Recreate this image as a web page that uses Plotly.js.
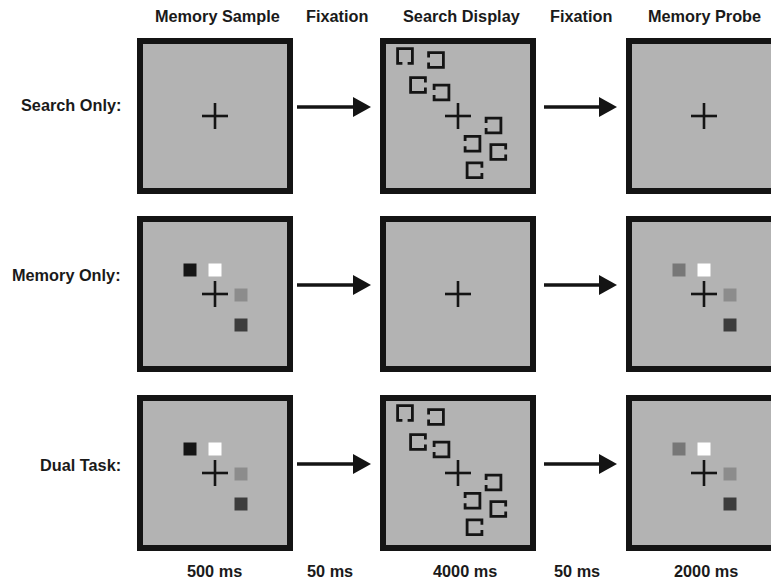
<!DOCTYPE html>
<html>
<head>
<meta charset="utf-8">
<script src="https://cdn.plot.ly/plotly-3.0.1.min.js"></script>
<style>html,body{margin:0;padding:0;background:#fff;}#chart{width:771px;height:582px;}</style>
</head>
<body>
<div id="chart"></div>
<script>
// ---- content ----
const columnTitles = ["Memory Sample", "Fixation", "Search Display", "Fixation", "Memory Probe"];
const durations = ["500 ms", "50 ms", "4000 ms", "50 ms", "2000 ms"];
const rowLabels = ["Search Only:", "Memory Only:", "Dual Task:"];
const rowDisplays = [
  ["fixation", "search", "fixation"],
  ["memory", "fixation", "probe"],
  ["memory", "search", "probe"]
];
// memory items: offsets from display centre (px) and colours
const memoryDx = [-25, 0, 26, 26];
const memoryDy = [-24, -24, 1, 31];
const sampleColors = ["#151515", "#ffffff", "#8c8c8c", "#3c3c3c"];
const probeColors = ["#777777", "#ffffff", "#8c8c8c", "#3c3c3c"];
// search items: offsets from display centre and side of the gap
const searchDx = [-53, -22, -40, -16.5, 35.5, 14.5, 40.3, 16.5];
const searchDy = [-60, -56, -31, -23.5, 9.5, 27.7, 36, 54.3];
const searchGap = ["bottom", "left", "right", "left", "left", "left", "right", "right"];

// ---- layout geometry ----
const panelLeft = [137, 380, 626];
const panelTop = [38, 216, 395];
const panelSize = 156;
const border = 6;
const titleX = [217, 337, 461, 581, 704];
const durX = [214, 330, 465, 577, 706];
const arrowX = [[297, 371], [544, 617]];
const FONT = "'Liberation Sans', Arial, sans-serif";
const FSIZE = 16.3;
const INK = "#141414";

const shapes = [];
const annotations = [];

function cross(cx, cy) {
  const a = 13;
  shapes.push({type: "line", xref: "x", yref: "y", x0: cx - a, x1: cx + a, y0: cy, y1: cy, line: {color: INK, width: 2.6}});
  shapes.push({type: "line", xref: "x", yref: "y", x0: cx, x1: cx, y0: cy - a, y1: cy + a, line: {color: INK, width: 2.6}});
}
function memoryItems(cx, cy, colors) {
  const s = 13;
  for (let i = 0; i < colors.length; i++) {
    const x = cx + memoryDx[i], y = cy + memoryDy[i];
    shapes.push({type: "rect", xref: "x", yref: "y", x0: x - s / 2, x1: x + s / 2, y0: y - s / 2, y1: y + s / 2,
      fillcolor: colors[i], line: {width: 0}});
  }
}
function searchItems(cx, cy) {
  const h = 7.4, g = 2.6;
  for (let i = 0; i < searchDx.length; i++) {
    const x = cx + searchDx[i], y = cy + searchDy[i];
    const L = x - h, R = x + h, T = y - h, B = y + h;
    let p;
    switch (searchGap[i]) {
      case "bottom": p = `M${x - g},${B} L${L},${B} L${L},${T} L${R},${T} L${R},${B} L${x + g},${B}`; break;
      case "top": p = `M${x + g},${T} L${R},${T} L${R},${B} L${L},${B} L${L},${T} L${x - g},${T}`; break;
      case "left": p = `M${L},${y - g} L${L},${T} L${R},${T} L${R},${B} L${L},${B} L${L},${y + g}`; break;
      default: p = `M${R},${y - g} L${R},${T} L${L},${T} L${L},${B} L${R},${B} L${R},${y + g}`;
    }
    shapes.push({type: "path", xref: "x", yref: "y", path: p, line: {color: INK, width: 2.8}});
  }
}

for (let r = 0; r < rowDisplays.length; r++) {
  const top = panelTop[r];
  for (let c = 0; c < 3; c++) {
    const left = panelLeft[c];
    shapes.push({type: "rect", xref: "x", yref: "y",
      x0: left + border / 2, x1: left + panelSize - border / 2,
      y0: top + border / 2, y1: top + panelSize - border / 2,
      fillcolor: "#b3b3b3", line: {color: INK, width: border}});
    const cx = left + panelSize / 2, cy = top + panelSize / 2;
    cross(cx, cy);
    const kind = rowDisplays[r][c];
    if (kind === "memory") memoryItems(cx, cy, sampleColors);
    if (kind === "probe") memoryItems(cx, cy, probeColors);
    if (kind === "search") searchItems(cx, cy);
  }
  // arrows
  const ay = top + panelSize / 2 - 9;
  for (const [xs, xe] of arrowX) {
    const headLen = 18, headH = 10;
    shapes.push({type: "line", xref: "x", yref: "y", x0: xs, x1: xe - headLen + 1, y0: ay, y1: ay, line: {color: INK, width: 3.5}});
    shapes.push({type: "path", xref: "x", yref: "y",
      path: `M${xe - headLen},${ay - headH} L${xe},${ay} L${xe - headLen},${ay + headH} Z`,
      fillcolor: INK, line: {color: INK, width: 0}});
  }
  // row label
  const labelY = [105, 275, 465][r];
  annotations.push({xref: "x", yref: "y", x: 123, y: labelY, xanchor: "right", yanchor: "middle",
    text: "<b>" + rowLabels[r] + "</b>", showarrow: false, font: {family: FONT, size: FSIZE, color: "#1a1a1a"}});
}

columnTitles.forEach((t, i) => annotations.push({xref: "x", yref: "y", x: titleX[i], y: 16, xanchor: "center", yanchor: "middle",
  text: "<b>" + t + "</b>", showarrow: false, font: {family: FONT, size: FSIZE, color: "#1a1a1a"}}));
durations.forEach((t, i) => annotations.push({xref: "x", yref: "y", x: durX[i], y: 571, xanchor: "center", yanchor: "middle",
  text: "<b>" + t + "</b>", showarrow: false, font: {family: FONT, size: FSIZE, color: "#1a1a1a"}}));

const layout = {
  width: 771, height: 582,
  margin: {l: 0, r: 0, t: 0, b: 0},
  paper_bgcolor: "#ffffff", plot_bgcolor: "#ffffff",
  xaxis: {range: [0, 771], visible: false, fixedrange: true},
  yaxis: {range: [582, 0], visible: false, fixedrange: true},
  showlegend: false,
  shapes: shapes,
  annotations: annotations
};
Plotly.newPlot("chart", [{type: "scatter", x: [], y: [], mode: "markers", hoverinfo: "skip"}], layout, {staticPlot: true});
</script>
</body>
</html>
